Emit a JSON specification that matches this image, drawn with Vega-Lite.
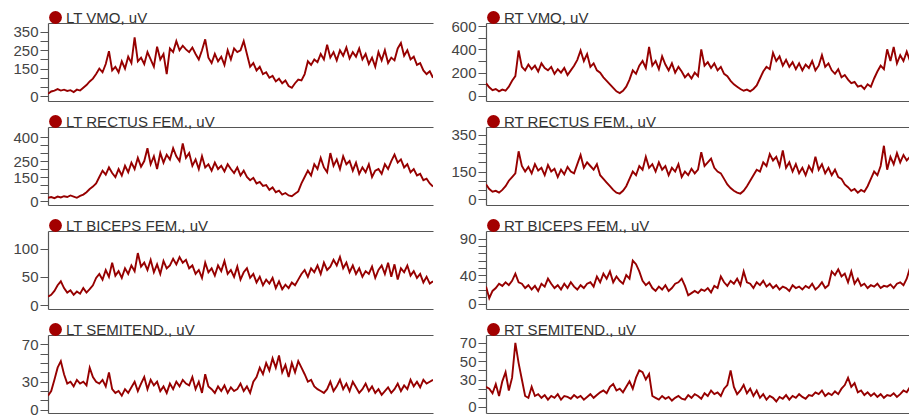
{
"$schema": "https://vega.github.io/schema/vega-lite/v6.json",
"padding": {"left": 12, "top": 10, "right": 0, "bottom": 0},
"datasets": {
"L": [
{"t":0,"a":12,"b":20,"c":15,"d":15},{"t":1,"a":25,"b":25,"c":18,"d":20},{"t":2,"a":30,"b":18,"c":25,"d":32},{"t":3,"a":38,"b":28,"c":35,"d":45},{"t":4,"a":30,"b":22,"c":42,"d":52},{"t":5,"a":35,"b":30,"c":30,"d":38},{"t":6,"a":28,"b":25,"c":22,"d":28},{"t":7,"a":32,"b":35,"c":26,"d":30},{"t":8,"a":22,"b":28,"c":18,"d":25},{"t":9,"a":35,"b":20,"c":24,"d":32},
{"t":10,"a":30,"b":32,"c":20,"d":28},{"t":11,"a":45,"b":40,"c":30,"d":30},{"t":12,"a":60,"b":55,"c":22,"d":26},{"t":13,"a":80,"b":75,"c":28,"d":45},{"t":14,"a":95,"b":90,"c":35,"d":35},{"t":15,"a":120,"b":110,"c":48,"d":30},{"t":16,"a":150,"b":150,"c":55,"d":28},{"t":17,"a":130,"b":190,"c":45,"d":32},{"t":18,"a":175,"b":165,"c":62,"d":25},{"t":19,"a":245,"b":210,"c":50,"d":40},
{"t":20,"a":140,"b":175,"c":75,"d":22},{"t":21,"a":160,"b":150,"c":52,"d":18},{"t":22,"a":130,"b":200,"c":60,"d":20},{"t":23,"a":190,"b":160,"c":48,"d":15},{"t":24,"a":150,"b":220,"c":65,"d":22},{"t":25,"a":215,"b":180,"c":55,"d":18},{"t":26,"a":180,"b":240,"c":70,"d":24},{"t":27,"a":320,"b":200,"c":60,"d":30},{"t":28,"a":190,"b":270,"c":92,"d":20},{"t":29,"a":210,"b":215,"c":68,"d":28},
{"t":30,"a":175,"b":250,"c":75,"d":35},{"t":31,"a":240,"b":330,"c":62,"d":22},{"t":32,"a":200,"b":230,"c":80,"d":32},{"t":33,"a":160,"b":280,"c":58,"d":26},{"t":34,"a":270,"b":200,"c":72,"d":30},{"t":35,"a":200,"b":300,"c":55,"d":20},{"t":36,"a":230,"b":240,"c":78,"d":25},{"t":37,"a":120,"b":290,"c":65,"d":18},{"t":38,"a":260,"b":260,"c":70,"d":28},{"t":39,"a":240,"b":330,"c":82,"d":22},
{"t":40,"a":300,"b":280,"c":72,"d":30},{"t":41,"a":250,"b":250,"c":85,"d":25},{"t":42,"a":275,"b":360,"c":75,"d":32},{"t":43,"a":255,"b":270,"c":80,"d":28},{"t":44,"a":240,"b":300,"c":65,"d":26},{"t":45,"a":265,"b":220,"c":70,"d":35},{"t":46,"a":230,"b":260,"c":55,"d":22},{"t":47,"a":200,"b":200,"c":62,"d":30},{"t":48,"a":250,"b":280,"c":48,"d":18},{"t":49,"a":310,"b":210,"c":75,"d":38},
{"t":50,"a":210,"b":230,"c":58,"d":25},{"t":51,"a":180,"b":190,"c":65,"d":22},{"t":52,"a":230,"b":240,"c":52,"d":18},{"t":53,"a":190,"b":200,"c":70,"d":25},{"t":54,"a":215,"b":220,"c":60,"d":20},{"t":55,"a":170,"b":185,"c":78,"d":26},{"t":56,"a":250,"b":230,"c":55,"d":18},{"t":57,"a":200,"b":200,"c":62,"d":24},{"t":58,"a":260,"b":175,"c":50,"d":20},{"t":59,"a":240,"b":210,"c":68,"d":22},
{"t":60,"a":250,"b":160,"c":45,"d":28},{"t":61,"a":300,"b":190,"c":58,"d":20},{"t":62,"a":230,"b":150,"c":65,"d":25},{"t":63,"a":160,"b":130,"c":48,"d":18},{"t":64,"a":180,"b":145,"c":55,"d":30},{"t":65,"a":140,"b":110,"c":40,"d":35},{"t":66,"a":160,"b":120,"c":50,"d":45},{"t":67,"a":120,"b":95,"c":35,"d":38},{"t":68,"a":130,"b":100,"c":45,"d":50},{"t":69,"a":100,"b":70,"c":38,"d":42},
{"t":70,"a":110,"b":85,"c":48,"d":55},{"t":71,"a":80,"b":55,"c":30,"d":45},{"t":72,"a":95,"b":65,"c":42,"d":58},{"t":73,"a":70,"b":40,"c":28,"d":40},{"t":74,"a":85,"b":50,"c":36,"d":48},{"t":75,"a":55,"b":35,"c":30,"d":35},{"t":76,"a":45,"b":30,"c":40,"d":50},{"t":77,"a":70,"b":45,"c":35,"d":40},{"t":78,"a":90,"b":60,"c":45,"d":52},{"t":79,"a":85,"b":110,"c":55,"d":45},
{"t":80,"a":120,"b":150,"c":62,"d":38},{"t":81,"a":190,"b":190,"c":50,"d":30},{"t":82,"a":170,"b":160,"c":65,"d":32},{"t":83,"a":200,"b":230,"c":58,"d":25},{"t":84,"a":185,"b":200,"c":70,"d":22},{"t":85,"a":230,"b":270,"c":55,"d":20},{"t":86,"a":200,"b":210,"c":75,"d":18},{"t":87,"a":280,"b":180,"c":62,"d":22},{"t":88,"a":210,"b":300,"c":68,"d":30},{"t":89,"a":240,"b":220,"c":80,"d":20},
{"t":90,"a":195,"b":260,"c":70,"d":25},{"t":91,"a":250,"b":200,"c":85,"d":32},{"t":92,"a":220,"b":280,"c":65,"d":22},{"t":93,"a":265,"b":230,"c":75,"d":28},{"t":94,"a":205,"b":250,"c":58,"d":20},{"t":95,"a":240,"b":190,"c":70,"d":30},{"t":96,"a":215,"b":240,"c":55,"d":24},{"t":97,"a":260,"b":170,"c":65,"d":18},{"t":98,"a":200,"b":210,"c":50,"d":22},{"t":99,"a":230,"b":180,"c":60,"d":28},
{"t":100,"a":175,"b":230,"c":55,"d":20},{"t":101,"a":210,"b":150,"c":68,"d":25},{"t":102,"a":160,"b":190,"c":48,"d":18},{"t":103,"a":240,"b":200,"c":62,"d":22},{"t":104,"a":195,"b":170,"c":70,"d":16},{"t":105,"a":250,"b":230,"c":55,"d":20},{"t":106,"a":180,"b":200,"c":75,"d":24},{"t":107,"a":210,"b":250,"c":50,"d":18},{"t":108,"a":195,"b":290,"c":72,"d":22},{"t":109,"a":260,"b":240,"c":45,"d":28},
{"t":110,"a":290,"b":260,"c":65,"d":20},{"t":111,"a":220,"b":210,"c":58,"d":26},{"t":112,"a":250,"b":230,"c":70,"d":22},{"t":113,"a":200,"b":180,"c":52,"d":32},{"t":114,"a":215,"b":200,"c":60,"d":25},{"t":115,"a":170,"b":160,"c":48,"d":30},{"t":116,"a":180,"b":170,"c":55,"d":24},{"t":117,"a":140,"b":130,"c":40,"d":32},{"t":118,"a":120,"b":140,"c":50,"d":28},{"t":119,"a":135,"b":110,"c":38,"d":30},
{"t":120,"a":100,"b":90,"c":42,"d":32}
],
"R": [
{"t":0,"a":110,"b":80,"c":24,"d":22},{"t":1,"a":75,"b":55,"c":8,"d":20},{"t":2,"a":50,"b":40,"c":18,"d":15},{"t":3,"a":60,"b":45,"c":22,"d":25},{"t":4,"a":40,"b":35,"c":28,"d":12},{"t":5,"a":55,"b":50,"c":25,"d":28},{"t":6,"a":45,"b":70,"c":30,"d":38},{"t":7,"a":80,"b":100,"c":26,"d":18},{"t":8,"a":130,"b":120,"c":32,"d":32},{"t":9,"a":170,"b":140,"c":42,"d":70},
{"t":10,"a":390,"b":260,"c":30,"d":48},{"t":11,"a":250,"b":180,"c":28,"d":30},{"t":12,"a":220,"b":150,"c":22,"d":12},{"t":13,"a":270,"b":175,"c":26,"d":10},{"t":14,"a":230,"b":140,"c":20,"d":22},{"t":15,"a":260,"b":190,"c":25,"d":12},{"t":16,"a":210,"b":155,"c":18,"d":14},{"t":17,"a":280,"b":170,"c":28,"d":10},{"t":18,"a":240,"b":130,"c":24,"d":13},{"t":19,"a":220,"b":185,"c":35,"d":8},
{"t":20,"a":250,"b":150,"c":28,"d":12},{"t":21,"a":190,"b":165,"c":22,"d":10},{"t":22,"a":230,"b":120,"c":26,"d":14},{"t":23,"a":200,"b":160,"c":20,"d":8},{"t":24,"a":240,"b":135,"c":28,"d":12},{"t":25,"a":180,"b":175,"c":22,"d":11},{"t":26,"a":220,"b":150,"c":30,"d":9},{"t":27,"a":260,"b":140,"c":24,"d":13},{"t":28,"a":310,"b":190,"c":20,"d":10},{"t":29,"a":390,"b":240,"c":26,"d":12},
{"t":30,"a":300,"b":170,"c":22,"d":8},{"t":31,"a":360,"b":200,"c":28,"d":11},{"t":32,"a":250,"b":180,"c":30,"d":14},{"t":33,"a":280,"b":160,"c":24,"d":10},{"t":34,"a":220,"b":190,"c":38,"d":13},{"t":35,"a":200,"b":130,"c":30,"d":16},{"t":36,"a":160,"b":110,"c":42,"d":18},{"t":37,"a":130,"b":90,"c":35,"d":15},{"t":38,"a":100,"b":70,"c":45,"d":22},{"t":39,"a":70,"b":50,"c":30,"d":25},
{"t":40,"a":40,"b":35,"c":38,"d":18},{"t":41,"a":25,"b":30,"c":32,"d":20},{"t":42,"a":45,"b":45,"c":28,"d":16},{"t":43,"a":80,"b":70,"c":40,"d":22},{"t":44,"a":140,"b":110,"c":35,"d":28},{"t":45,"a":220,"b":150,"c":60,"d":20},{"t":46,"a":190,"b":130,"c":55,"d":32},{"t":47,"a":260,"b":180,"c":45,"d":40},{"t":48,"a":300,"b":160,"c":32,"d":38},{"t":49,"a":240,"b":230,"c":26,"d":30},
{"t":50,"a":420,"b":170,"c":30,"d":36},{"t":51,"a":260,"b":190,"c":22,"d":12},{"t":52,"a":300,"b":150,"c":18,"d":10},{"t":53,"a":230,"b":200,"c":24,"d":8},{"t":54,"a":340,"b":160,"c":20,"d":12},{"t":55,"a":270,"b":180,"c":26,"d":9},{"t":56,"a":220,"b":130,"c":18,"d":11},{"t":57,"a":280,"b":170,"c":22,"d":7},{"t":58,"a":200,"b":150,"c":28,"d":10},{"t":59,"a":250,"b":190,"c":30,"d":12},
{"t":60,"a":210,"b":120,"c":35,"d":9},{"t":61,"a":160,"b":150,"c":25,"d":8},{"t":62,"a":190,"b":130,"c":12,"d":13},{"t":63,"a":150,"b":165,"c":15,"d":10},{"t":64,"a":200,"b":140,"c":18,"d":14},{"t":65,"a":170,"b":160,"c":15,"d":12},{"t":66,"a":400,"b":255,"c":20,"d":9},{"t":67,"a":260,"b":180,"c":18,"d":15},{"t":68,"a":290,"b":200,"c":22,"d":12},{"t":69,"a":240,"b":220,"c":16,"d":18},
{"t":70,"a":280,"b":170,"c":25,"d":14},{"t":71,"a":220,"b":150,"c":22,"d":16},{"t":72,"a":250,"b":140,"c":38,"d":12},{"t":73,"a":190,"b":110,"c":30,"d":20},{"t":74,"a":170,"b":80,"c":25,"d":24},{"t":75,"a":130,"b":60,"c":32,"d":40},{"t":76,"a":100,"b":45,"c":28,"d":22},{"t":77,"a":80,"b":35,"c":35,"d":14},{"t":78,"a":60,"b":30,"c":26,"d":18},{"t":79,"a":45,"b":45,"c":45,"d":24},
{"t":80,"a":55,"b":70,"c":30,"d":15},{"t":81,"a":40,"b":100,"c":28,"d":20},{"t":82,"a":60,"b":130,"c":22,"d":12},{"t":83,"a":90,"b":160,"c":30,"d":18},{"t":84,"a":150,"b":150,"c":26,"d":10},{"t":85,"a":210,"b":200,"c":32,"d":14},{"t":86,"a":250,"b":180,"c":24,"d":8},{"t":87,"a":230,"b":245,"c":28,"d":12},{"t":88,"a":370,"b":210,"c":22,"d":10},{"t":89,"a":300,"b":230,"c":26,"d":6},
{"t":90,"a":340,"b":180,"c":20,"d":11},{"t":91,"a":260,"b":265,"c":24,"d":9},{"t":92,"a":310,"b":170,"c":22,"d":13},{"t":93,"a":250,"b":200,"c":18,"d":8},{"t":94,"a":290,"b":150,"c":26,"d":12},{"t":95,"a":230,"b":190,"c":22,"d":10},{"t":96,"a":280,"b":140,"c":24,"d":14},{"t":97,"a":220,"b":170,"c":20,"d":11},{"t":98,"a":270,"b":130,"c":25,"d":9},{"t":99,"a":240,"b":180,"c":22,"d":13},
{"t":100,"a":300,"b":150,"c":28,"d":12},{"t":101,"a":220,"b":230,"c":20,"d":16},{"t":102,"a":260,"b":160,"c":24,"d":14},{"t":103,"a":350,"b":190,"c":30,"d":18},{"t":104,"a":250,"b":140,"c":22,"d":12},{"t":105,"a":280,"b":170,"c":26,"d":15},{"t":106,"a":220,"b":130,"c":45,"d":13},{"t":107,"a":190,"b":160,"c":40,"d":17},{"t":108,"a":230,"b":120,"c":48,"d":14},{"t":109,"a":160,"b":110,"c":38,"d":20},
{"t":110,"a":180,"b":80,"c":42,"d":24},{"t":111,"a":140,"b":65,"c":30,"d":32},{"t":112,"a":110,"b":45,"c":45,"d":22},{"t":113,"a":120,"b":55,"c":28,"d":26},{"t":114,"a":80,"b":35,"c":35,"d":16},{"t":115,"a":90,"b":50,"c":25,"d":18},{"t":116,"a":60,"b":40,"c":28,"d":13},{"t":117,"a":100,"b":70,"c":22,"d":16},{"t":118,"a":80,"b":110,"c":26,"d":12},{"t":119,"a":150,"b":150,"c":24,"d":15},
{"t":120,"a":210,"b":130,"c":28,"d":11},{"t":121,"a":260,"b":180,"c":22,"d":14},{"t":122,"a":230,"b":290,"c":25,"d":10},{"t":123,"a":400,"b":160,"c":24,"d":13},{"t":124,"a":300,"b":230,"c":27,"d":12},{"t":125,"a":420,"b":190,"c":22,"d":15},{"t":126,"a":280,"b":250,"c":28,"d":11},{"t":127,"a":350,"b":200,"c":30,"d":14},{"t":128,"a":300,"b":240,"c":26,"d":18},{"t":129,"a":380,"b":210,"c":35,"d":16},
{"t":130,"a":300,"b":230,"c":50,"d":22}
]
},
"columns": 2,
"spacing": {"row": 26, "column": 53},
"bounds": "flush",
"align": "each",
"resolve": {"scale": {"x": "independent", "y": "independent", "color": "independent"}, "legend": {"color": "independent"}},
"concat": [
{"width": 385, "height": 78, "data": {"name": "L"},
 "layer": [
  {"mark": {"type": "line", "color": "#960000", "strokeWidth": 1.9, "clip": true},
   "encoding": {
    "x": {"field": "t", "type": "quantitative", "scale": {"domain": [0, 120], "nice": false, "zero": false}, "axis": {"orient": "bottom", "title": null}},
    "y": {"field": "a", "type": "quantitative", "scale": {"domain": [-27, 399], "nice": false, "zero": false}, "axis": {"title": null, "values": [0, 50, 100, 150, 200, 250, 300, 350], "labelExpr": "(datum.value == 0 || datum.value == 150 || datum.value == 250 || datum.value == 350) ? datum.label : ''"}}}},
  {"mark": {"type": "point", "filled": true, "opacity": 0},
   "encoding": {
    "x": {"field": "t", "type": "quantitative", "axis": {"orient": "top", "title": null}},
    "color": {"datum": "LT VMO, uV", "scale": {"range": ["#a30000"]}, "legend": {"orient": "top", "title": null}}}}
 ],
 "resolve": {"axis": {"x": "independent"}}},
{"width": 424, "height": 78, "data": {"name": "R"},
 "layer": [
  {"mark": {"type": "line", "color": "#960000", "strokeWidth": 1.9, "clip": true},
   "encoding": {
    "x": {"field": "t", "type": "quantitative", "scale": {"domain": [0, 130], "nice": false, "zero": false}, "axis": {"orient": "bottom", "title": null}},
    "y": {"field": "a", "type": "quantitative", "scale": {"domain": [-43, 626], "nice": false, "zero": false}, "axis": {"title": null, "values": [0, 100, 200, 300, 400, 500, 600], "labelExpr": "(datum.value == 0 || datum.value == 200 || datum.value == 400 || datum.value == 600) ? datum.label : ''"}}}},
  {"mark": {"type": "point", "filled": true, "opacity": 0},
   "encoding": {
    "x": {"field": "t", "type": "quantitative", "axis": {"orient": "top", "title": null}},
    "color": {"datum": "RT VMO, uV", "scale": {"range": ["#a30000"]}, "legend": {"orient": "top", "title": null}}}}
 ],
 "resolve": {"axis": {"x": "independent"}}},
{"width": 385, "height": 78, "data": {"name": "L"},
 "layer": [
  {"mark": {"type": "line", "color": "#960000", "strokeWidth": 1.9, "clip": true},
   "encoding": {
    "x": {"field": "t", "type": "quantitative", "scale": {"domain": [0, 120], "nice": false, "zero": false}, "axis": {"orient": "bottom", "title": null}},
    "y": {"field": "b", "type": "quantitative", "scale": {"domain": [-25, 463], "nice": false, "zero": false}, "axis": {"title": null, "values": [0, 50, 100, 150, 200, 250, 300, 350, 400], "labelExpr": "(datum.value == 0 || datum.value == 150 || datum.value == 250 || datum.value == 400) ? datum.label : ''"}}}},
  {"mark": {"type": "point", "filled": true, "opacity": 0},
   "encoding": {
    "x": {"field": "t", "type": "quantitative", "axis": {"orient": "top", "title": null}},
    "color": {"datum": "LT RECTUS FEM., uV", "scale": {"range": ["#a30000"]}, "legend": {"orient": "top", "title": null}}}}
 ],
 "resolve": {"axis": {"x": "independent"}}},
{"width": 424, "height": 78, "data": {"name": "R"},
 "layer": [
  {"mark": {"type": "line", "color": "#960000", "strokeWidth": 1.9, "clip": true},
   "encoding": {
    "x": {"field": "t", "type": "quantitative", "scale": {"domain": [0, 130], "nice": false, "zero": false}, "axis": {"orient": "bottom", "title": null}},
    "y": {"field": "b", "type": "quantitative", "scale": {"domain": [-32, 392], "nice": false, "zero": false}, "axis": {"title": null, "values": [0, 50, 100, 150, 200, 250, 300, 350], "labelExpr": "(datum.value == 0 || datum.value == 150 || datum.value == 350) ? datum.label : ''"}}}},
  {"mark": {"type": "point", "filled": true, "opacity": 0},
   "encoding": {
    "x": {"field": "t", "type": "quantitative", "axis": {"orient": "top", "title": null}},
    "color": {"datum": "RT RECTUS FEM., uV", "scale": {"range": ["#a30000"]}, "legend": {"orient": "top", "title": null}}}}
 ],
 "resolve": {"axis": {"x": "independent"}}},
{"width": 385, "height": 78, "data": {"name": "L"},
 "layer": [
  {"mark": {"type": "line", "color": "#960000", "strokeWidth": 1.9, "clip": true},
   "encoding": {
    "x": {"field": "t", "type": "quantitative", "scale": {"domain": [0, 120], "nice": false, "zero": false}, "axis": {"orient": "bottom", "title": null}},
    "y": {"field": "c", "type": "quantitative", "scale": {"domain": [-7, 131], "nice": false, "zero": false}, "axis": {"title": null, "values": [0, 50, 100]}}}},
  {"mark": {"type": "point", "filled": true, "opacity": 0},
   "encoding": {
    "x": {"field": "t", "type": "quantitative", "axis": {"orient": "top", "title": null}},
    "color": {"datum": "LT BICEPS FEM., uV", "scale": {"range": ["#a30000"]}, "legend": {"orient": "top", "title": null}}}}
 ],
 "resolve": {"axis": {"x": "independent"}}},
{"width": 424, "height": 78, "data": {"name": "R"},
 "layer": [
  {"mark": {"type": "line", "color": "#960000", "strokeWidth": 1.9, "clip": true},
   "encoding": {
    "x": {"field": "t", "type": "quantitative", "scale": {"domain": [0, 130], "nice": false, "zero": false}, "axis": {"orient": "bottom", "title": null}},
    "y": {"field": "c", "type": "quantitative", "scale": {"domain": [-7, 101], "nice": false, "zero": false}, "axis": {"title": null, "values": [0, 10, 20, 30, 40, 50, 60, 70, 80, 90], "labelExpr": "(datum.value == 0 || datum.value == 40 || datum.value == 90) ? datum.label : ''"}}}},
  {"mark": {"type": "point", "filled": true, "opacity": 0},
   "encoding": {
    "x": {"field": "t", "type": "quantitative", "axis": {"orient": "top", "title": null}},
    "color": {"datum": "RT BICEPS FEM., uV", "scale": {"range": ["#a30000"]}, "legend": {"orient": "top", "title": null}}}}
 ],
 "resolve": {"axis": {"x": "independent"}}},
{"width": 385, "height": 78, "data": {"name": "L"},
 "layer": [
  {"mark": {"type": "line", "color": "#960000", "strokeWidth": 1.9, "clip": true},
   "encoding": {
    "x": {"field": "t", "type": "quantitative", "scale": {"domain": [0, 120], "nice": false, "zero": false}, "axis": {"orient": "bottom", "title": null}},
    "y": {"field": "d", "type": "quantitative", "scale": {"domain": [-3.5, 80], "nice": false, "zero": false}, "axis": {"title": null, "values": [0, 10, 20, 30, 40, 50, 60, 70], "labelExpr": "(datum.value == 0 || datum.value == 30 || datum.value == 70) ? datum.label : ''"}}}},
  {"mark": {"type": "point", "filled": true, "opacity": 0},
   "encoding": {
    "x": {"field": "t", "type": "quantitative", "axis": {"orient": "top", "title": null}},
    "color": {"datum": "LT SEMITEND., uV", "scale": {"range": ["#a30000"]}, "legend": {"orient": "top", "title": null}}}}
 ],
 "resolve": {"axis": {"x": "independent"}}},
{"width": 424, "height": 78, "data": {"name": "R"},
 "layer": [
  {"mark": {"type": "line", "color": "#960000", "strokeWidth": 1.9, "clip": true},
   "encoding": {
    "x": {"field": "t", "type": "quantitative", "scale": {"domain": [0, 130], "nice": false, "zero": false}, "axis": {"orient": "bottom", "title": null}},
    "y": {"field": "d", "type": "quantitative", "scale": {"domain": [-6.6, 78.7], "nice": false, "zero": false}, "axis": {"title": null, "values": [0, 10, 20, 30, 40, 50, 60, 70], "labelExpr": "(datum.value == 0 || datum.value == 30 || datum.value == 50 || datum.value == 70) ? datum.label : ''"}}}},
  {"mark": {"type": "point", "filled": true, "opacity": 0},
   "encoding": {
    "x": {"field": "t", "type": "quantitative", "axis": {"orient": "top", "title": null}},
    "color": {"datum": "RT SEMITEND., uV", "scale": {"range": ["#a30000"]}, "legend": {"orient": "top", "title": null}}}}
 ],
 "resolve": {"axis": {"x": "independent"}}}
],
"config": {
 "view": {"stroke": null},
 "font": "Liberation Sans",
 "axis": {"domainColor": "#555555", "domainWidth": 1.2, "tickColor": "#555555", "tickWidth": 1, "tickSize": 8, "labelFontSize": 15, "labelColor": "#444444", "labelPadding": 2, "grid": false, "labelFont": "Liberation Sans", "labelOverlap": false},
 "axisX": {"labels": false, "ticks": false},
 "legend": {"symbolType": "circle", "symbolSize": 165, "symbolOpacity": 1, "symbolStrokeWidth": 0, "labelFontSize": 15, "labelColor": "#333333", "labelFont": "Liberation Sans", "offset": -3, "padding": 0, "labelOffset": 3}
}
}
